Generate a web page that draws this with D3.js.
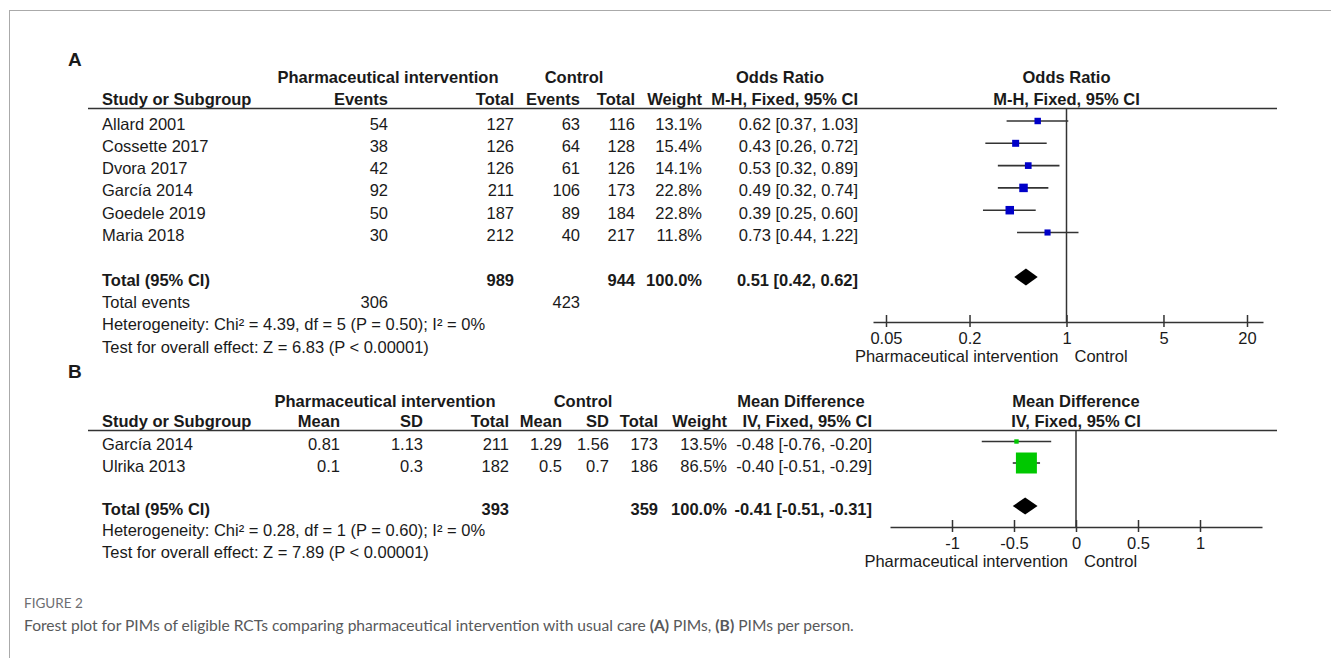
<!DOCTYPE html>
<html>
<head>
<meta charset="utf-8">
<script src="https://cdn.jsdelivr.net/npm/d3@7"></script>
<style>
  body { margin: 0; background: #fff; }
  svg text { font-family: "Liberation Sans", Arial, sans-serif; fill: #1a1a1a; }
  .cap text { font-family: Lato, "Noto Sans", sans-serif; }
</style>
</head>
<body>
<div id="chart"></div>
<script>
// ---- panel A data (odds ratio) ----
var studiesA = ["Allard 2001", "Cossette 2017", "Dvora 2017", "García 2014", "Goedele 2019", "Maria 2018"];
var eventsIntA = [54, 38, 42, 92, 50, 30];
var totalIntA = [127, 126, 126, 211, 187, 212];
var eventsCtlA = [63, 64, 61, 106, 89, 40];
var totalCtlA = [116, 128, 126, 173, 184, 217];
var weightA = [13.1, 15.4, 14.1, 22.8, 22.8, 11.8];
var orA = [0.62, 0.43, 0.53, 0.49, 0.39, 0.73];
var orLowA = [0.37, 0.26, 0.32, 0.32, 0.25, 0.44];
var orHighA = [1.03, 0.72, 0.89, 0.74, 0.60, 1.22];
var pooledA = [0.51, 0.42, 0.62];
var sumsA = [989, 944, 306, 423];   // total int, total ctl, events int, events ctl
var ticksA = [0.05, 0.2, 1, 5, 20];

// ---- panel B data (mean difference) ----
var studiesB = ["García 2014", "Ulrika 2013"];
var meanIntB = [0.81, 0.1];
var sdIntB = [1.13, 0.3];
var totalIntB = [211, 182];
var meanCtlB = [1.29, 0.5];
var sdCtlB = [1.56, 0.7];
var totalCtlB = [173, 186];
var weightB = [13.5, 86.5];
var mdB = [-0.48, -0.40];
var mdLowB = [-0.76, -0.51];
var mdHighB = [-0.20, -0.29];
var pooledB = [-0.41, -0.51, -0.31];
var sumsB = [393, 359];
var ticksB = [-1, -0.5, 0, 0.5, 1];

var svgWidth = 1331;
var svgHeight = 658;
var fontSize = 16.5;

var svg = d3.select("#chart")
	.append("svg")
	.attr("width", svgWidth)
	.attr("height", svgHeight);

// frame lines
svg.append("line").attr("x1", 9).attr("x2", svgWidth).attr("y1", 10.5).attr("y2", 10.5)
	.attr("stroke", "#aaa").attr("stroke-width", 1);
svg.append("line").attr("x1", 9.5).attr("x2", 9.5).attr("y1", 10).attr("y2", svgHeight)
	.attr("stroke", "#aaa").attr("stroke-width", 1);

function txt(g, x, y, s, anchor, bold, size) {
	return g.append("text")
		.attr("x", x)
		.attr("y", y)
		.attr("text-anchor", anchor || "start")
		.attr("font-size", size || fontSize)
		.attr("font-weight", bold ? "bold" : "normal")
		.text(s);
}

function fmt2(v) { return v.toFixed(2); }
function ci(v, lo, hi) { return fmt2(v) + " [" + fmt2(lo) + ", " + fmt2(hi) + "]"; }

// draws the plot side of a panel
function drawPlot(g, cfg) {
	var x = cfg.scale;
	var axisScale = x.copy().domain([x.invert(cfg.axisRange[0]), x.invert(cfg.axisRange[1])]).range(cfg.axisRange);

	// null line
	g.append("line")
		.attr("x1", x(cfg.nullValue)).attr("x2", x(cfg.nullValue))
		.attr("y1", cfg.top).attr("y2", cfg.axisY)
		.attr("stroke", "#333").attr("stroke-width", 1.5);

	var axis = d3.axisBottom(axisScale)
		.tickValues(cfg.ticks)
		.tickFormat(function(d) { return String(d); })
		.tickSizeOuter(0)
		.tickSize(0)
		.tickPadding(10);

	var ax = g.append("g")
		.attr("transform", `translate(0, ${cfg.axisY})`)
		.call(axis);
	ax.select(".domain").attr("stroke", "#333").attr("stroke-width", 1.5);
	ax.selectAll(".tick line").attr("y1", -7).attr("y2", 5).attr("stroke", "#333").attr("stroke-width", 1.5);
	ax.selectAll(".tick text").attr("font-size", fontSize).attr("fill", "#1a1a1a")
		.attr("font-family", '"Liberation Sans", Arial, sans-serif');

	txt(g, x(cfg.nullValue) - 8, cfg.axisY + 40, "Pharmaceutical intervention", "end");
	txt(g, x(cfg.nullValue) + 8, cfg.axisY + 40, "Control", "start");

	// CI lines
	g.selectAll(".ci")
		.data(cfg.est)
		.enter()
		.append("line")
		.attr("x1", (d, i) => x(cfg.low[i]))
		.attr("x2", (d, i) => x(cfg.high[i]))
		.attr("y1", (d, i) => cfg.rowY(i))
		.attr("y2", (d, i) => cfg.rowY(i))
		.attr("stroke", "#333")
		.attr("stroke-width", 1.6);

	// squares
	g.selectAll(".sq")
		.data(cfg.est)
		.enter()
		.append("rect")
		.attr("x", (d, i) => x(d) - cfg.size(cfg.weight[i]) / 2)
		.attr("y", (d, i) => cfg.rowY(i) - cfg.size(cfg.weight[i]) / 2)
		.attr("width", (d, i) => cfg.size(cfg.weight[i]))
		.attr("height", (d, i) => cfg.size(cfg.weight[i]))
		.attr("fill", cfg.color);

	// diamond
	var p = cfg.pooled;
	var dy = cfg.pooledY;
	g.append("path")
		.attr("d", d3.line()([[x(p[1]), dy], [x(p[0]), dy - 8.5], [x(p[2]), dy], [x(p[0]), dy + 8.5]]) + "Z")
		.attr("fill", "#000");
}

// ================= Panel A =================
var gA = svg.append("g");
var rowA = d => 121 + 22.3 * d;
var baseA = d => rowA(d) + 8.5;

txt(gA, 68, 66, "A", "start", true, 19);

txt(gA, 388, 83, "Pharmaceutical intervention", "middle", true);
txt(gA, 574, 83, "Control", "middle", true);
txt(gA, 780, 83, "Odds Ratio", "middle", true);

txt(gA, 102, 105, "Study or Subgroup", "start", true);
txt(gA, 388, 105, "Events", "end", true);
txt(gA, 514, 105, "Total", "end", true);
txt(gA, 580, 105, "Events", "end", true);
txt(gA, 635, 105, "Total", "end", true);
txt(gA, 702, 105, "Weight", "end", true);
txt(gA, 858, 105, "M-H, Fixed, 95% CI", "end", true);

var xA = d3.scaleLog().domain([0.05, 20]).range([886, 1247]);
txt(gA, xA(1), 83, "Odds Ratio", "middle", true);
txt(gA, xA(1), 105, "M-H, Fixed, 95% CI", "middle", true);

gA.append("line").attr("x1", 88).attr("x2", 1277).attr("y1", 108.5).attr("y2", 108.5)
	.attr("stroke", "#333").attr("stroke-width", 1.6);

studiesA.forEach(function(s, i) {
	var y = baseA(i);
	txt(gA, 102, y, s);
	txt(gA, 388, y, eventsIntA[i], "end");
	txt(gA, 514, y, totalIntA[i], "end");
	txt(gA, 580, y, eventsCtlA[i], "end");
	txt(gA, 635, y, totalCtlA[i], "end");
	txt(gA, 702, y, weightA[i].toFixed(1) + "%", "end");
	txt(gA, 858, y, ci(orA[i], orLowA[i], orHighA[i]), "end");
});

txt(gA, 102, baseA(7), "Total (95% CI)", "start", true);
txt(gA, 514, baseA(7), sumsA[0], "end", true);
txt(gA, 635, baseA(7), sumsA[1], "end", true);
txt(gA, 702, baseA(7), "100.0%", "end", true);
txt(gA, 858, baseA(7), ci(pooledA[0], pooledA[1], pooledA[2]), "end", true);
txt(gA, 102, baseA(8), "Total events");
txt(gA, 388, baseA(8), sumsA[2], "end");
txt(gA, 580, baseA(8), sumsA[3], "end");
txt(gA, 102, baseA(9), "Heterogeneity: Chi² = 4.39, df = 5 (P = 0.50); I² = 0%");
txt(gA, 102, baseA(10), "Test for overall effect: Z = 6.83 (P < 0.00001)");

drawPlot(gA, {
	scale: xA,
	axisRange: [873, 1263],
	nullValue: 1,
	top: 108,
	axisY: 322,
	ticks: ticksA,
	est: orA, low: orLowA, high: orHighA, weight: weightA,
	rowY: rowA,
	size: d3.scaleSqrt().domain([0, 100]).range([0, 17.8]),
	color: "#0000c8",
	pooled: pooledA,
	pooledY: rowA(7)
});

// ================= Panel B =================
var gB = svg.append("g");
var rowB = d => 441.5 + 21.5 * d;
var baseB = d => rowB(d) + 8.5;

txt(gB, 68, 378, "B", "start", true, 19);

txt(gB, 385, 407, "Pharmaceutical intervention", "middle", true);
txt(gB, 583, 407, "Control", "middle", true);
txt(gB, 801, 407, "Mean Difference", "middle", true);

txt(gB, 102, 427, "Study or Subgroup", "start", true);
txt(gB, 340, 427, "Mean", "end", true);
txt(gB, 423, 427, "SD", "end", true);
txt(gB, 509, 427, "Total", "end", true);
txt(gB, 562, 427, "Mean", "end", true);
txt(gB, 609, 427, "SD", "end", true);
txt(gB, 658, 427, "Total", "end", true);
txt(gB, 727, 427, "Weight", "end", true);
txt(gB, 872, 427, "IV, Fixed, 95% CI", "end", true);

var xB = d3.scaleLinear().domain([-1.5, 1.5]).range([890, 1262]);
txt(gB, xB(0), 407, "Mean Difference", "middle", true);
txt(gB, xB(0), 427, "IV, Fixed, 95% CI", "middle", true);

gB.append("line").attr("x1", 88).attr("x2", 1277).attr("y1", 430.5).attr("y2", 430.5)
	.attr("stroke", "#333").attr("stroke-width", 1.6);

studiesB.forEach(function(s, i) {
	var y = baseB(i);
	txt(gB, 102, y, s);
	txt(gB, 340, y, String(meanIntB[i]), "end");
	txt(gB, 423, y, String(sdIntB[i]), "end");
	txt(gB, 509, y, totalIntB[i], "end");
	txt(gB, 562, y, String(meanCtlB[i]), "end");
	txt(gB, 609, y, String(sdCtlB[i]), "end");
	txt(gB, 658, y, totalCtlB[i], "end");
	txt(gB, 727, y, weightB[i].toFixed(1) + "%", "end");
	txt(gB, 872, y, ci(mdB[i], mdLowB[i], mdHighB[i]), "end");
});

txt(gB, 102, baseB(3), "Total (95% CI)", "start", true);
txt(gB, 509, baseB(3), sumsB[0], "end", true);
txt(gB, 658, baseB(3), sumsB[1], "end", true);
txt(gB, 727, baseB(3), "100.0%", "end", true);
txt(gB, 872, baseB(3), ci(pooledB[0], pooledB[1], pooledB[2]), "end", true);
txt(gB, 102, baseB(4), "Heterogeneity: Chi² = 0.28, df = 1 (P = 0.60); I² = 0%");
txt(gB, 102, baseB(5), "Test for overall effect: Z = 7.89 (P < 0.00001)");

drawPlot(gB, {
	scale: xB,
	axisRange: [890, 1262],
	nullValue: 0,
	top: 430,
	axisY: 527,
	ticks: ticksB,
	est: mdB, low: mdLowB, high: mdHighB, weight: weightB,
	rowY: rowB,
	size: d3.scalePow().exponent(0.84).domain([0, 100]).range([0, 23.7]),
	color: "#00c800",
	pooled: pooledB,
	pooledY: rowB(3)
});

// ================= caption =================
var cap = svg.append("g").attr("class", "cap");
cap.append("text").attr("x", 24).attr("y", 608).attr("font-size", 13.5)
	.style("fill", "#6d6e71").text("FIGURE 2");
var line2 = cap.append("text").attr("x", 24).attr("y", 631).attr("font-size", 15.6)
	.style("fill", "#58595b");
line2.append("tspan").text("Forest plot for PIMs of eligible RCTs comparing pharmaceutical intervention with usual care ");
line2.append("tspan").attr("font-weight", "bold").text("(A)");
line2.append("tspan").text(" PIMs, ");
line2.append("tspan").attr("font-weight", "bold").text("(B)");
line2.append("tspan").text(" PIMs per person.");
</script>
</body>
</html>
